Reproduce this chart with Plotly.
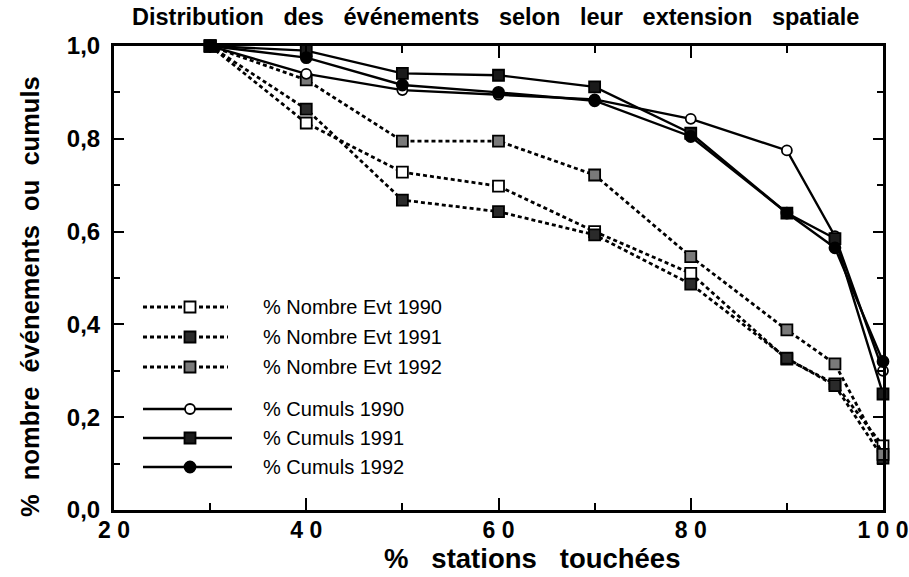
import plotly.graph_objects as go

# ---- data ----
stations = [30, 40, 50, 60, 70, 80, 90, 95, 100]
nb_1990 = [1.0, 0.834, 0.728, 0.698, 0.600, 0.510, 0.325, 0.272, 0.138]
nb_1991 = [1.0, 0.864, 0.668, 0.643, 0.593, 0.487, 0.327, 0.268, 0.112]
nb_1992 = [1.0, 0.927, 0.795, 0.795, 0.722, 0.546, 0.388, 0.315, 0.120]
cu_1990 = [1.0, 0.940, 0.905, 0.895, 0.885, 0.843, 0.775, 0.590, 0.300]
cu_1991 = [1.0, 0.990, 0.941, 0.937, 0.912, 0.812, 0.640, 0.585, 0.250]
cu_1992 = [1.0, 0.975, 0.916, 0.900, 0.882, 0.805, 0.640, 0.565, 0.320]

x_tickvals = [20, 40, 60, 80, 100]
x_ticktext = ["2 0", "4 0", "6 0", "8 0", "1 0 0"]
y_tickvals = [0.0, 0.2, 0.4, 0.6, 0.8, 1.0]
y_ticktext = ["0,0", "0,2", "0,4", "0,6", "0,8", "1,0"]

names = ["% Nombre Evt 1990", "% Nombre Evt 1991", "% Nombre Evt 1992",
         "% Cumuls 1990", "% Cumuls 1991", "% Cumuls 1992"]
series = [nb_1990, nb_1991, nb_1992, cu_1990, cu_1991, cu_1992]

FONT = "Liberation Sans"
DASH = "4px,3px"
styles = [
    dict(dash=DASH, width=2.8, symbol="square", fill="white", size=11),
    dict(dash=DASH, width=2.8, symbol="square", fill="#2a2a2a", size=11),
    dict(dash=DASH, width=2.8, symbol="square", fill="#7a7a7a", size=11),
    dict(dash="solid", width=2.4, symbol="circle", fill="white", size=10),
    dict(dash="solid", width=2.4, symbol="square", fill="#1a1a1a", size=11),
    dict(dash="solid", width=2.4, symbol="circle", fill="black", size=11),
]

fig = go.Figure()
for name, vals, st in zip(names, series, styles):
    fig.add_trace(go.Scatter(
        x=stations, y=vals, mode="lines+markers", name=name,
        line=dict(color="black", width=st["width"], dash=st["dash"]),
        marker=dict(symbol=st["symbol"], size=st["size"], color=st["fill"],
                    line=dict(color="black", width=1.8)),
        cliponaxis=False, showlegend=False,
    ))

# ---- legend drawn on an overlay axis (pixel-like coordinates) ----
leg_y = [307, 337, 367, 409, 438, 467]
for name, ly, st in zip(names, leg_y, styles):
    x_end = 228 if st["dash"] != "solid" else 232
    fig.add_trace(go.Scatter(
        x=[143, x_end], y=[ly, ly], mode="lines", xaxis="x2", yaxis="y2",
        line=dict(color="black", width=st["width"], dash=st["dash"]),
        showlegend=False, hoverinfo="skip", cliponaxis=False))
    fig.add_trace(go.Scatter(
        x=[190], y=[ly], mode="markers", xaxis="x2", yaxis="y2",
        marker=dict(symbol=st["symbol"], size=st["size"], color=st["fill"],
                    line=dict(color="black", width=1.8)),
        showlegend=False, hoverinfo="skip", cliponaxis=False))
    fig.add_annotation(x=261, y=ly, xref="x2", yref="y2", text=name,
                       showarrow=False, xanchor="left", yanchor="middle",
                       font=dict(family=FONT, size=20, color="black"))

axis_common = dict(showline=True, linewidth=3, linecolor="black", mirror="ticks",
                   ticks="inside", tickwidth=2, tickcolor="black",
                   showgrid=False, zeroline=False, automargin=False)

fig.update_layout(
    width=909, height=577,
    margin=dict(l=114, r=26, t=46, b=67),
    paper_bgcolor="white", plot_bgcolor="white",
    showlegend=False,
    xaxis=dict(range=[20, 100], tickvals=x_tickvals, ticktext=x_ticktext,
               ticklen=12, ticklabelstandoff=-3,
               minor=dict(tickvals=[30, 50, 70, 90], ticks="inside", ticklen=7,
                          tickwidth=2, tickcolor="black"),
               tickfont=dict(family=FONT, size=23, color="black", weight="bold"),
               **axis_common),
    yaxis=dict(range=[0, 1], tickvals=y_tickvals, ticktext=y_ticktext,
               ticklen=10, ticklabelstandoff=6,
               minor=dict(tickvals=[0.1, 0.3, 0.5, 0.7, 0.9], ticks="inside",
                          ticklen=6, tickwidth=2, tickcolor="black"),
               tickfont=dict(family=FONT, size=24, color="black", weight="bold"),
               **axis_common),
    xaxis2=dict(overlaying="x", range=[114, 883], visible=False, fixedrange=True),
    yaxis2=dict(overlaying="y", range=[510, 46], visible=False, fixedrange=True),
)

# titles
fig.add_annotation(
    text="Distribution   des   événements   selon   leur   extension   spatiale",
    x=(495 - 114) / (883 - 114), y=1, xref="paper", yref="paper",
    yshift=29, showarrow=False, xanchor="center", yanchor="middle",
    font=dict(family=FONT, size=23.5, color="black", weight="bold"))
fig.add_annotation(
    text="%   stations   touchées",
    x=(532 - 114) / (883 - 114), y=0, xref="paper", yref="paper",
    yshift=-48, showarrow=False, xanchor="center", yanchor="middle",
    font=dict(family=FONT, size=27.5, color="black", weight="bold"))
fig.add_annotation(
    text="%  nombre  événements  ou  cumuls",
    x=0, y=(510 - 297) / (510 - 46), xref="paper", yref="paper",
    xshift=-84, textangle=-90, showarrow=False,
    xanchor="center", yanchor="middle",
    font=dict(family=FONT, size=25.5, color="black", weight="bold"))

fig.write_html("out.html",
               config={"displayModeBar": False},
               post_script="document.body.style.margin='0px';"
                           "document.body.style.overflow='hidden';")
